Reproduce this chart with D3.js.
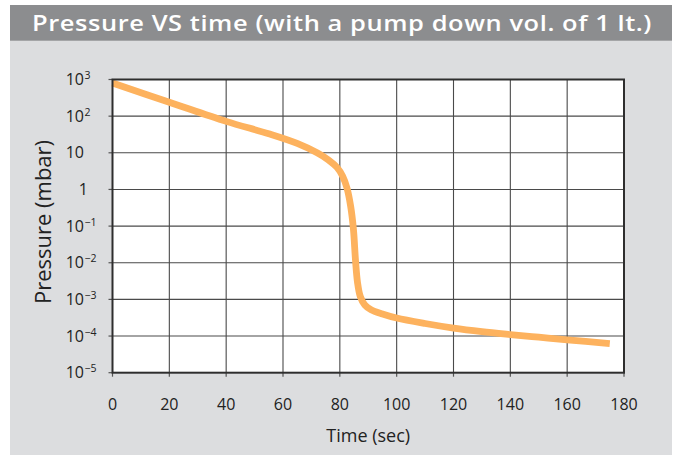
<!DOCTYPE html>
<html>
<head>
<meta charset="utf-8">
<script src="https://cdn.jsdelivr.net/npm/d3@7"></script>
<style>
  html, body { margin: 0; padding: 0; background: #ffffff; }
  svg { display: block; }
</style>
</head>
<body>
<svg id="chart" width="677" height="458"></svg>
<script>
// ---- data ----
const titleText = "Pressure VS time (with a pump down vol. of 1 lt.)";
const xTitle = "Time (sec)";
const yTitle = "Pressure (mbar)";
const xTicks = [0, 20, 40, 60, 80, 100, 120, 140, 160, 180];
const yTickExponents = [3, 2, 1, 0, -1, -2, -3, -4, -5];
const times = [0, 20, 40, 55, 65, 72, 76, 79, 81, 82.5, 83.8, 84.8, 85.5, 86.2, 87.2, 88.8, 91, 95, 100, 110, 120, 130, 140, 150, 160, 175];
const pressures = [800, 240, 72, 33, 18, 10, 6.4, 4.0, 2.3, 1.1, 0.35, 0.08, 0.012, 0.003, 0.0012, 0.0007, 0.00052, 0.0004, 0.00031, 0.00022, 0.000165, 0.000132, 0.00011, 0.000093, 0.000079, 0.000062];

// ---- layout ----
const svg = d3.select("#chart");
const pL = 112.5, pR = 624, pT = 79.5, pB = 372.7;

svg.append("rect").attr("x", 10).attr("y", 5).attr("width", 662).attr("height", 450).attr("fill", "#dcdddf");
svg.append("rect").attr("x", 10).attr("y", 5).attr("width", 662).attr("height", 35.7).attr("fill", "#8c8d8f");
svg.append("text")
  .attr("x", 32).attr("y", 31)
  .attr("font-family", "'Open Sans', sans-serif")
  .attr("font-weight", 600)
  .attr("font-size", 22)
  .attr("letter-spacing", 0.5)
  .attr("fill", "#ffffff")
  .attr("textLength", 620)
  .attr("lengthAdjust", "spacingAndGlyphs")
  .text(titleText);

const x = d3.scaleLinear().domain([0, 180]).range([pL, pR]);
const y = d3.scaleLog().domain([1e-5, 1e3]).range([pB, pT]);

svg.append("rect").attr("x", pL).attr("y", pT).attr("width", pR - pL).attr("height", pB - pT).attr("fill", "#ffffff");

const g = svg.append("g");
g.selectAll("line.vg").data(xTicks.slice(1, -1)).join("line")
  .attr("x1", d => x(d)).attr("x2", d => x(d)).attr("y1", pT).attr("y2", pB)
  .attr("stroke", "#4a4a4a").attr("stroke-width", 1.1);
g.selectAll("line.hg").data(yTickExponents.slice(1, -1)).join("line")
  .attr("x1", pL).attr("x2", pR).attr("y1", d => y(Math.pow(10, d))).attr("y2", d => y(Math.pow(10, d)))
  .attr("stroke", "#4a4a4a").attr("stroke-width", 1.1);

const g2 = svg.append("g");
g2.selectAll("line").data(xTicks).join("line")
  .attr("x1", d => x(d)).attr("x2", d => x(d)).attr("y1", pB).attr("y2", pB + 4)
  .attr("stroke", "#555").attr("stroke-width", 1.2);
const g3 = svg.append("g");
g3.selectAll("line").data(yTickExponents).join("line")
  .attr("x1", pL - 4).attr("x2", pL).attr("y1", d => y(Math.pow(10, d))).attr("y2", d => y(Math.pow(10, d)))
  .attr("stroke", "#555").attr("stroke-width", 1.2);

const line = d3.line().x(d => x(d[0])).y(d => y(d[1])).curve(d3.curveCatmullRom.alpha(0.5));
svg.append("path")
  .datum(times.map((t, i) => [t, pressures[i]]))
  .attr("d", line)
  .attr("fill", "none")
  .attr("stroke", "#fdb25e")
  .attr("stroke-width", 6.8)
  .attr("stroke-linecap", "butt")
  .attr("stroke-linejoin", "round");

svg.append("rect").attr("x", pL).attr("y", pT).attr("width", pR - pL).attr("height", pB - pT)
  .attr("fill", "none").attr("stroke", "#2e2e2e").attr("stroke-width", 2);

const font = "'Open Sans', sans-serif";
svg.append("g").selectAll("text").data(xTicks).join("text")
  .attr("x", d => x(d)).attr("y", 410)
  .attr("text-anchor", "middle")
  .attr("font-family", font).attr("font-size", 16).attr("fill", "#222")
  .text(d => d);

yTickExponents.forEach(e => {
  const yy = y(Math.pow(10, e));
  if (e === 0) {
    svg.append("text").attr("x", 88).attr("y", yy + 5.5).attr("text-anchor", "end")
      .attr("font-family", font).attr("font-size", 16).attr("fill", "#222").text("1");
  } else if (e === 1) {
    svg.append("text").attr("x", 84).attr("y", yy + 5.5).attr("text-anchor", "end")
      .attr("font-family", font).attr("font-size", 16).attr("fill", "#222").text("10");
  } else {
    svg.append("text").attr("x", 84).attr("y", yy + 5.5).attr("text-anchor", "end")
      .attr("font-family", font).attr("font-size", 16).attr("fill", "#222").text("10");
    svg.append("text").attr("x", 84.5).attr("y", yy - 0.5).attr("text-anchor", "start")
      .attr("font-family", font).attr("font-size", 10.5).attr("fill", "#222")
      .text(e < 0 ? "\u2212" + Math.abs(e) : String(e));
  }
});

svg.append("text").attr("x", (pL + pR) / 2).attr("y", 442)
  .attr("text-anchor", "middle").attr("font-family", font).attr("font-size", 18).attr("fill", "#222")
  .text(xTitle);
svg.append("text")
  .attr("transform", "translate(51,222) rotate(-90)")
  .attr("text-anchor", "middle").attr("font-family", font).attr("font-size", 22).attr("fill", "#222")
  .text(yTitle);
</script>
</body>
</html>
